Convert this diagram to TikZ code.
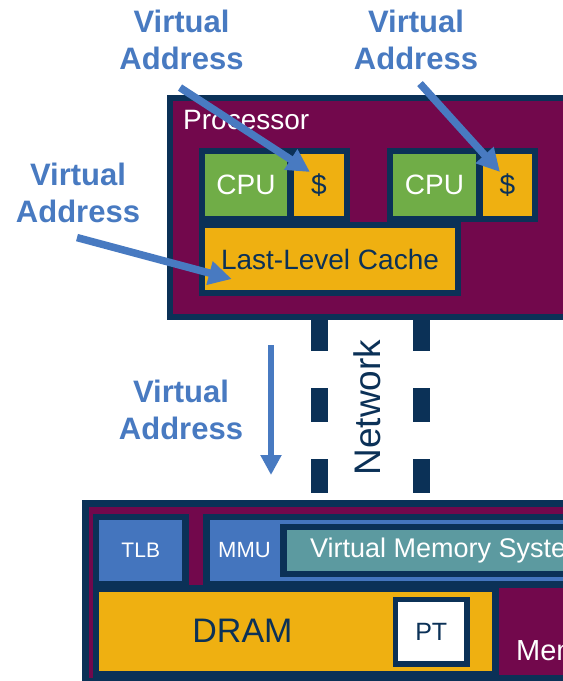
\documentclass[tikz,border=0pt]{standalone}
\usepackage{fontspec}
\setmainfont{Liberation Sans}
\usetikzlibrary{arrows.meta,calc}

\definecolor{navy}{RGB}{11,49,87}
\definecolor{plum}{RGB}{114,8,76}
\definecolor{cpugreen}{RGB}{112,173,71}
\definecolor{cacheorange}{RGB}{239,176,17}
\definecolor{vablue}{RGB}{72,122,193}
\definecolor{mmublue}{RGB}{68,117,190}
\definecolor{vmteal}{RGB}{92,154,160}

\begin{document}
\begin{tikzpicture}[x=1pt, y=-1pt,
    unit/.style={draw=navy, line width=6.5pt, inner sep=0pt},
    cpubox/.style={unit, fill=cpugreen, minimum height=68pt, text=white, font=\fontsize{28}{32}\selectfont},
    cachebox/.style={unit, fill=cacheorange, minimum height=68pt, text=navy, font=\fontsize{28}{32}\selectfont},
    vaddr/.style={align=center, inner sep=0pt, text=vablue, font=\bfseries\fontsize{31}{37}\selectfont},
    vaarrow/.style={draw=vablue, line width=7.5pt, -{Triangle[length=23pt,width=23pt]}},
    netlink/.style={draw=navy, line width=17pt, dash pattern=on 34pt off 37pt, dash phase=3pt},
    whitetext/.style={text=white, inner sep=0pt, anchor=base west}
  ]
    \useasboundingbox (0,0) rectangle (563,681);
    \clip (0,0) rectangle (563,681);

    % processor chip
    \node (proc) at (385,207.5)[draw=navy, line width=6pt, fill=plum, minimum width=430pt, minimum height=219pt] {};
    \node (proclabel) at (183,129)[whitetext, font=\fontsize{28}{32}\selectfont] {Processor};

    \node (cpu1) at (246,185)[cpubox, minimum width=88pt] {CPU};
    \node (cache1) at (319,185)[cachebox, minimum width=56pt] {\$};
    \node (cpu2) at (434.5,185)[cpubox, minimum width=89pt] {CPU};
    \node (cache2) at (507.5,185)[cachebox, minimum width=55pt] {\$};
    \node (llc) at (330,259)[cachebox, minimum width=256pt] {Last-Level Cache};

    % memory module
    \node (mem) at (382.75,592.5)[draw=navy, line width=7pt, fill=plum, minimum width=594.5pt, minimum height=178pt] {};
    \node (tlb) at (140.75,550.5)[unit, fill=mmublue, minimum width=89.5pt, minimum height=67pt, text=white, font=\fontsize{21}{25}\selectfont] {TLB};
    \node (mmu) at (443.25,550.5)[unit, fill=mmublue, minimum width=473.5pt, minimum height=67pt] {};
    \node (mmulabel) at (218,557)[whitetext, font=\fontsize{22}{26}\selectfont] {MMU};
    \node (vms) at (481.75,550.5)[unit, fill=vmteal, minimum width=396.5pt, minimum height=47pt] {};
    \node (vmslabel) at (310,557)[whitetext, font=\fontsize{27}{30}\selectfont] {Virtual Memory System};
    \node (memctrl) at (587.75,631.25)[unit, fill=plum, minimum width=184.5pt, minimum height=93.5pt] {};
    \node (memlabel) at (516,660)[whitetext, font=\fontsize{29}{32}\selectfont] {Memory};
    \node (dram) at (295.75,631.5)[unit, fill=cacheorange, minimum width=399.5pt, minimum height=86pt] {};
    \node (dramlabel) at (242.5,630.5)[text=navy, inner sep=0pt, font=\fontsize{34}{38}\selectfont] {DRAM};
    \node (pt) at (431.25,631.75)[draw=navy, line width=5.5pt, fill=white, minimum width=71.5pt, minimum height=64.5pt, text=navy, font=\fontsize{25}{29}\selectfont] {PT};

    % network
    \coordinate (linkl) at (319.5,0);
    \coordinate (linkr) at (421.5,0);
    \draw[netlink] (proc.south -| linkl) -- (mem.north -| linkl);
    \draw[netlink] (proc.south -| linkr) -- (mem.north -| linkr);
    \node (netlabel) at (367.5,407.5)[rotate=90, text=navy, inner sep=0pt, font=\fontsize{37}{40}\selectfont] {Network};

    % virtual addresses
    \node (va1) at (181.5,39.5)[vaddr] {Virtual\\Address};
    \node (va2) at (416,39.5)[vaddr] {Virtual\\Address};
    \node (va3) at (78,192.5)[vaddr] {Virtual\\Address};
    \node (va4) at (181,409.5)[vaddr] {Virtual\\Address};

    \draw[vaarrow] ($(va1.south)+(-1.5,18)$) -- ($(cache1.center)+(-9,-13)$);
    \draw[vaarrow] ($(va2.south)+(4,14)$) -- ($(cache2.center)+(-7.5,-13)$);
    \draw[vaarrow] ($(va3.south)+(-1,15)$) -- ($(llc.west)+(33,20)$);
    \coordinate (vaflow) at (271,0);
    \draw[vaarrow, line width=6pt, -{Triangle[length=20pt,width=20pt]}, shorten <=25pt, shorten >=25pt] (proc.south -| vaflow) -- (mem.north -| vaflow);
\end{tikzpicture}
\end{document}
